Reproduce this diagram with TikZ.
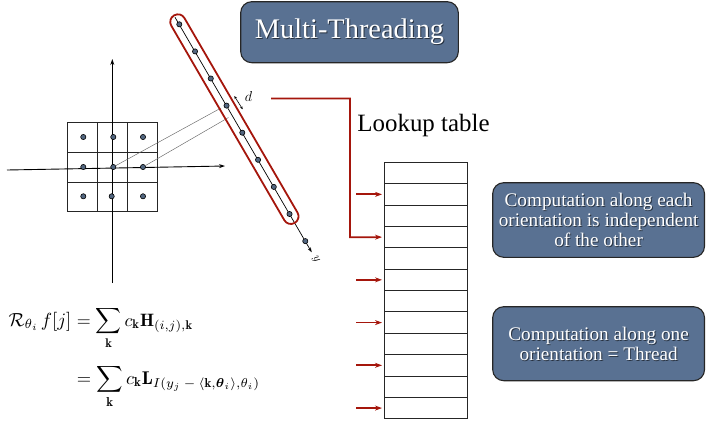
\documentclass[tikz,border=0pt]{standalone}
\usepackage{amsmath}
\usepackage{graphicx}
\usepackage{fontspec}
\usetikzlibrary{arrows.meta,calc}

\newfontfamily\palfont{Liberation Serif}
\definecolor{slate}{RGB}{89,113,146}
\definecolor{darkred}{RGB}{165,22,12}
\definecolor{dotfill}{RGB}{82,102,128}
\newcommand\bigmath[2][1.8]{\scalebox{#1}{$\displaystyle #2$}}

\begin{document}
\begin{tikzpicture}[x=1bp,y=-1bp,
  panel/.style={draw=black!85, line width=1.1bp, fill=slate, rounded corners=11bp,
    inner sep=0pt},
  paneltext/.style={text=white, align=center, inner sep=0pt},
  textshadow/.style={text=black, opacity=0.55, align=center, inner sep=0pt},
  gridpt/.style={circle, draw=black, line width=0.6bp, fill=dotfill, inner sep=0pt,
    minimum size=5.2bp},
  axis/.style={line width=0.9bp, -{Stealth[length=6bp,width=4bp]}},
  redline/.style={draw=darkred, line width=1.8bp},
  redarrow/.style={redline, -{Stealth[length=7bp,width=5bp]}},
  projline/.style={draw=black!60, line width=0.45bp},
  cell/.style={draw=black!85, line width=1bp},
  tablerow/.style={draw=black!85, line width=0.9bp, minimum width=83.7bp,
    minimum height=21.37bp, inner sep=0pt, outer sep=0pt},
  titlefont/.style={font=\palfont\fontsize{28.5}{33}\selectfont},
  notefont/.style={font=\palfont\fontsize{19.3}{20}\selectfont},
]
\useasboundingbox (0,0) rectangle (706,424);

% ---- pixel grid around the origin ----
\draw[cell] (67.7,122.3) rectangle (157.7,211.7);
\foreach \x in {97.7,127.7} \draw[cell] (\x,122.3) -- (\x,211.7);
\foreach \y in {152.3,182} \draw[cell] (67.7,\y) -- (157.7,\y);

% axes
\draw[axis] (112.3,283) -- (112.3,59);
\draw[axis] (7,170) -- (225,166);

% sample points of the grid
\node[gridpt] (g11) at (83.3,137) {};
\node[gridpt] (g12) at (113.3,137) {};
\node[gridpt] (g13) at (143,137) {};
\node[gridpt] (g21) at (83.3,167) {};
\node[gridpt] (g22) at (113.3,167) {};
\node[gridpt] (g23) at (143,167) {};
\node[gridpt] (g31) at (83.3,196.3) {};
\node[gridpt] (g32) at (111.7,196.3) {};
\node[gridpt] (g33) at (143,196.3) {};

% ---- rotated projection axis ----
\coordinate (r0) at (175,17.3);
\coordinate (r1) at (311.7,252.3);
\draw[line width=0.7bp, -{Stealth[length=5bp,width=3.5bp]}] (r0) -- (r1);
\foreach \i in {0,...,8}
  \node[gridpt] (p\i) at ({179.3+15.75*\i},{24.3+27.1*\i}) {};
\node[rotate=-60, font=\fontsize{13}{15}\selectfont] (ylab) at (316,259) {$y$};

% projections of two grid points onto the axis
\coordinate (q1) at (221,108);
\coordinate (q2) at (228.5,117.5);
\draw[projline] (g22) -- (q1);
\draw[projline] (g23) -- (q2);

% sampling step d
\coordinate (d0) at (234.3,96);
\coordinate (d1) at (242.7,109.3);
\draw[line width=0.6bp, {Stealth[length=3bp,width=2.5bp]}-{Stealth[length=3bp,width=2.5bp]}] (d0) -- (d1);
\node[font=\fontsize{14}{16}\selectfont] (dlab) at (248.5,97) {$d$};

% one orientation = one thread
\begin{scope}[shift={(234.4,119.15)}, rotate=-59.83]
  \draw[redline, rounded corners=7.4bp] (-120,-7.6) rectangle (120,7.6);
\end{scope}

% ---- title ----
\node[panel, minimum width=217.6bp, minimum height=61bp] (title) at (349.5,32.2) {};
\node[textshadow, titlefont] at ($(title)+(1,1)$) {Multi-Threading};
\node[paneltext, titlefont] (titletext) at (title) {Multi-Threading};

% ---- lookup table ----
\node[anchor=base, font=\palfont\fontsize{25}{29}\selectfont] (lut) at (423.5,131.7) {Lookup table};
\foreach \i in {0,...,11}
  \node[tablerow] (t\i) at (425.85,{162.3+21.37*(\i+0.5)}) {};

\coordinate (c0) at (271,98.5);
\draw[redarrow, shorten >=2bp] (c0) -- (350,98.5) -- (350,237.3) -- (t3.west);
\foreach \i in {1,5,7,9,11}
  \draw[redarrow, shorten >=2bp] ($(t\i.west)+(-28,0)$) -- (t\i.west);

% ---- remarks ----
\node[panel, minimum width=211.8bp, minimum height=74.6bp] (indep) at (598.6,220) {};
\node[textshadow, notefont] at ($(indep)+(0.9,0.9)$)
  {Computation along each\\orientation is independent\\of the other};
\node[paneltext, notefont] (indeptext) at (indep)
  {Computation along each\\orientation is independent\\of the other};

\node[panel, minimum width=211.8bp, minimum height=74bp] (thread) at (598.6,343.7) {};
\node[textshadow, notefont] at ($(thread)+(0.9,0.9)$)
  {Computation along one\\orientation = Thread};
\node[paneltext, notefont] (threadtext) at (thread)
  {Computation along one\\orientation = Thread};

% ---- formula ----
\begin{scope}[every node/.style={inner sep=0pt}]
  \node[anchor=base east] (lhs) at (71.7,326)
    {\bigmath[1.9]{\mathcal{R}_{\theta_i}\mskip2mu f[j]}};
  \node[anchor=base west] (rhs1) at (76.7,326)
    {\bigmath{= \sum_{\mathbf{k}} c_{\mathbf{k}} \mathbf{H}_{(i,j),\mathbf{k}}}};
  \node[anchor=base west] (rhs2) at (76.7,384)
    {\bigmath[1.85]{= \sum_{\mathbf{k}} c_{\mathbf{k}}
      \mathbf{L}_{I(y_j\mskip4mu-\mskip4mu\langle \mathbf{k},\boldsymbol{\theta}_i\rangle,\theta_i)}}};
\end{scope}
\end{tikzpicture}
\end{document}
